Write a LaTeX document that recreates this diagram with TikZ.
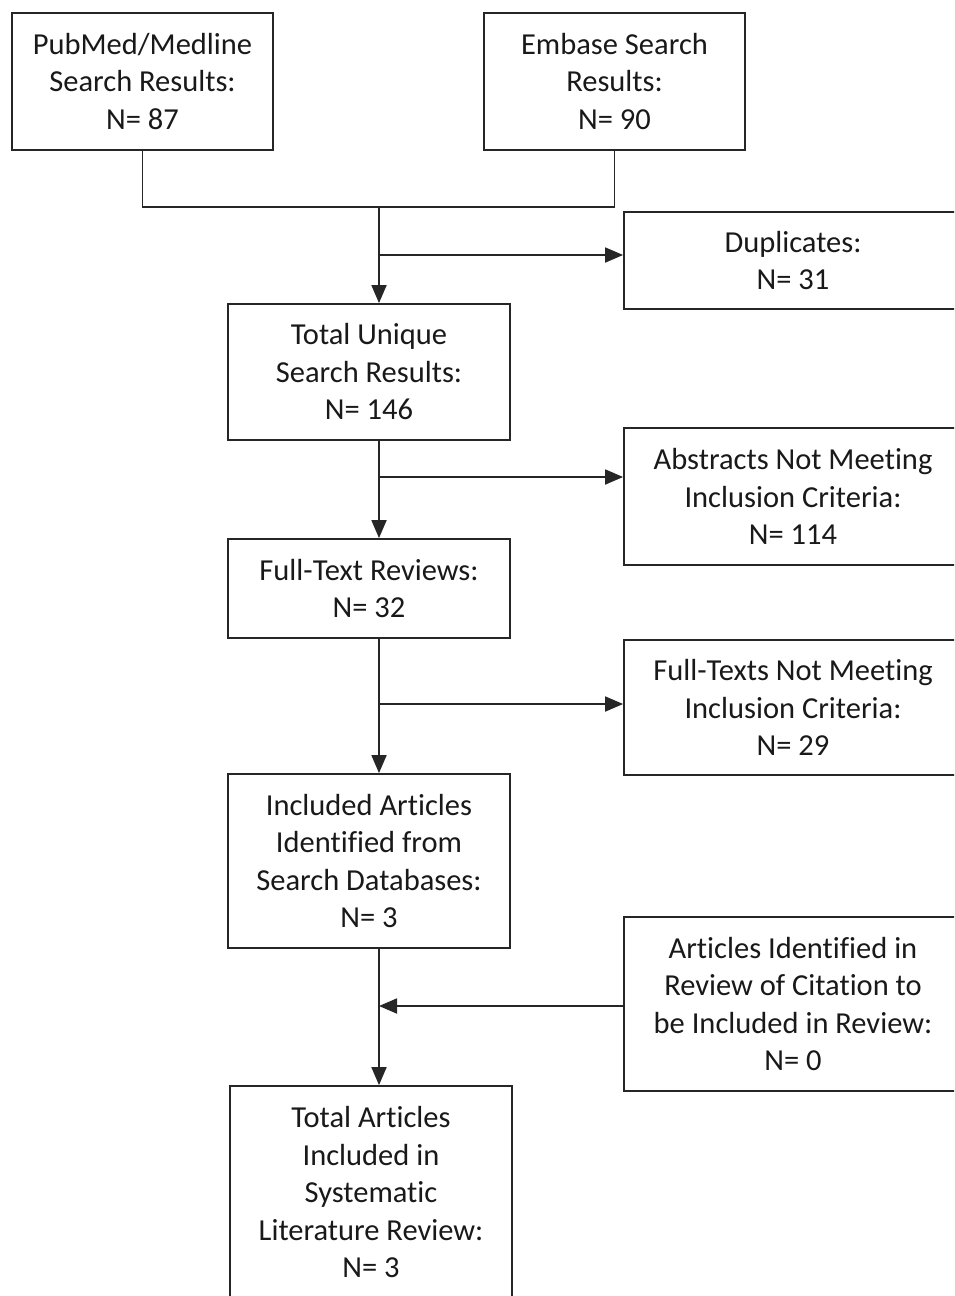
\documentclass[tikz,border=0pt]{standalone}
\usepackage{fontspec}
\setmainfont{Carlito}[Ligatures={NoCommon}]
\usetikzlibrary{arrows.meta}
\begin{document}
\begin{tikzpicture}[x=1pt,y=-1pt,
  box/.style={draw=black!85, line width=1.8pt, align=center, inner sep=0pt,
    font=\fontsize{30.5}{37.5}\selectfont, text=black!90},
  conn/.style={draw=black!85, line width=1.8pt},
  arr/.style={conn, -{Triangle[length=18pt,width=15pt]}}]
\useasboundingbox (0,0) rectangle (954,1296);
\clip (0,0) rectangle (954,1296);
\fill[white] (0,0) rectangle (954,1296);
% main column
\node[box, minimum width=261, minimum height=137] (pub) at (142.5,81.5) {PubMed/Medline\\Search Results:\\N= 87};
\node[box, minimum width=261, minimum height=137] (emb) at (614.5,81.5) {Embase Search\\Results:\\N= 90};
\node[box, minimum width=282, minimum height=136] (tu) at (369,372) {Total Unique\\Search Results:\\N= 146};
\node[box, minimum width=282, minimum height=99] (ftr) at (369,588.5) {Full-Text Reviews:\\N= 32};
\node[box, minimum width=282, minimum height=174] (inc) at (369,861) {Included Articles\\Identified from\\Search Databases:\\N= 3};
\node[box, minimum width=282, minimum height=212] (tot) at (371,1192) {Total Articles\\Included in\\Systematic\\Literature Review:\\N= 3};
% side boxes
\node[box, minimum width=338, minimum height=97] (dup) at (793,260.5) {Duplicates:\\N= 31};
\node[box, minimum width=338, minimum height=137] (abs) at (793,496.5) {Abstracts Not Meeting\\Inclusion Criteria:\\N= 114};
\node[box, minimum width=338, minimum height=135] (ftn) at (793,707.5) {Full-Texts Not Meeting\\Inclusion Criteria:\\N= 29};
\node[box, minimum width=338, minimum height=174] (cit) at (793,1004) {Articles Identified in\\Review of Citation to\\be Included in Review:\\N= 0};
% connectors
\coordinate (join) at (379,207);
\coordinate (j1) at (379,255);
\coordinate (j2) at (379,477);
\coordinate (j3) at (379,704);
\coordinate (j4) at (379,1006);
\draw[conn] (pub.south) |- (join) -| (emb.south);
\draw[arr] (join) -- (join |- tu.north);
\draw[arr] (j1) -- (j1 -| dup.west);
\draw[arr] (join |- tu.south) -- (join |- ftr.north);
\draw[arr] (j2) -- (j2 -| abs.west);
\draw[arr] (join |- ftr.south) -- (join |- inc.north);
\draw[arr] (j3) -- (j3 -| ftn.west);
\draw[arr] (join |- inc.south) -- (join |- tot.north);
\draw[arr] (j4 -| cit.west) -- (j4);
\end{tikzpicture}
\end{document}
